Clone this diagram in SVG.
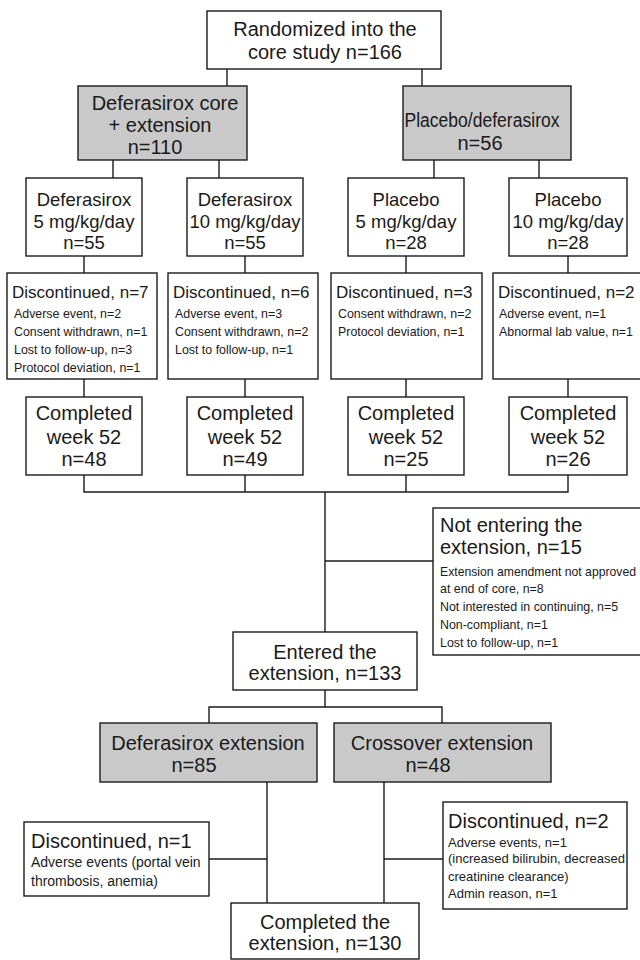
<svg xmlns="http://www.w3.org/2000/svg" width="640" height="960" viewBox="0 0 640 960">
<style>
text{font-family:"Liberation Sans",Arial,Helvetica,sans-serif;fill:#1a1a1a}
.b{fill:#fff;stroke:#1a1a1a;stroke-width:1.4}
.g{fill:#c9c9c9;stroke:#1a1a1a;stroke-width:1.4}
.c line,.c path{stroke:#1a1a1a;stroke-width:1.4;fill:none}
.t20{font-size:20px;text-anchor:middle}
.t18{font-size:18.5px;text-anchor:middle}
.h18{font-size:17px}
.h20{font-size:20px}
.s12{font-size:12.4px}
.s13{font-size:13px}
.s14{font-size:14px}
</style>
<rect width="640" height="960" fill="#fff"/>
<g class="c" id="connectors">
<line x1="227" y1="69" x2="227" y2="86"/>
<line x1="422" y1="69" x2="422" y2="86"/>
<line x1="113" y1="160" x2="113" y2="178"/>
<line x1="219" y1="160" x2="219" y2="178"/>
<line x1="434" y1="160" x2="434" y2="178"/>
<line x1="539" y1="160" x2="539" y2="178"/>
<line x1="84" y1="256" x2="84" y2="273"/>
<line x1="245" y1="256" x2="245" y2="273"/>
<line x1="406" y1="256" x2="406" y2="273"/>
<line x1="568" y1="256" x2="568" y2="273"/>
<line x1="84" y1="379" x2="84" y2="397"/>
<line x1="245" y1="379" x2="245" y2="397"/>
<line x1="406" y1="379" x2="406" y2="397"/>
<line x1="568" y1="379" x2="568" y2="397"/>
<path d="M84 475V492H568V475M245 475V492M406 475V492"/>
<line x1="325" y1="492" x2="325" y2="632"/>
<line x1="325" y1="561" x2="433" y2="561"/>
<line x1="325" y1="690" x2="325" y2="707"/>
<path d="M209 723V707H442V723"/>
<line x1="267" y1="782" x2="267" y2="903"/>
<line x1="384" y1="782" x2="384" y2="903"/>
<line x1="209" y1="859" x2="267" y2="859"/>
<line x1="384" y1="859" x2="443" y2="859"/>
</g>
<g id="randomized">
<rect class="b" x="207" y="11" width="234" height="58"/>
<text class="t20" x="325" y="36">Randomized into the</text>
<text class="t20" x="325" y="59">core study n=166</text>
</g>
<g id="def-core">
<rect class="g" x="78" y="86" width="169" height="74"/>
<text class="t20" x="165" y="110">Deferasirox core</text>
<text class="t20" x="160" y="132">+ extension</text>
<text class="t20" x="155" y="154">n=110</text>
</g>
<g id="placebo-def">
<rect class="g" x="403" y="86" width="168" height="74"/>
<text class="t20" x="482" y="127" textLength="155" lengthAdjust="spacingAndGlyphs">Placebo/deferasirox</text>
<text class="t20" x="480" y="150">n=56</text>
</g>
<g id="dose1">
<rect class="b" x="26" y="178" width="116" height="78"/>
<text class="t18" x="84" y="206">Deferasirox</text>
<text class="t18" x="84" y="228">5 mg/kg/day</text>
<text class="t18" x="84" y="249">n=55</text>
</g>
<g id="dose2">
<rect class="b" x="187" y="178" width="116" height="78"/>
<text class="t18" x="245" y="206">Deferasirox</text>
<text class="t18" x="245" y="228">10 mg/kg/day</text>
<text class="t18" x="245" y="249">n=55</text>
</g>
<g id="dose3">
<rect class="b" x="348" y="178" width="116" height="78"/>
<text class="t18" x="406" y="206">Placebo</text>
<text class="t18" x="406" y="228">5 mg/kg/day</text>
<text class="t18" x="406" y="249">n=28</text>
</g>
<g id="dose4">
<rect class="b" x="509" y="178" width="118" height="78"/>
<text class="t18" x="568" y="206">Placebo</text>
<text class="t18" x="568" y="228">10 mg/kg/day</text>
<text class="t18" x="568" y="249">n=28</text>
</g>
<g id="disc1">
<rect class="b" x="7" y="273" width="150" height="106"/>
<text class="h18" x="12" y="298">Discontinued, n=7</text>
<text class="s12" x="14" y="317.5">Adverse event, n=2</text>
<text class="s12" x="14" y="335.5">Consent withdrawn, n=1</text>
<text class="s12" x="14" y="353.5">Lost to follow-up, n=3</text>
<text class="s12" x="14" y="371.5">Protocol deviation, n=1</text>
</g>
<g id="disc2">
<rect class="b" x="168" y="273" width="150" height="106"/>
<text class="h18" x="173" y="298">Discontinued, n=6</text>
<text class="s12" x="175" y="317.5">Adverse event, n=3</text>
<text class="s12" x="175" y="335.5">Consent withdrawn, n=2</text>
<text class="s12" x="175" y="353.5">Lost to follow-up, n=1</text>
</g>
<g id="disc3">
<rect class="b" x="331" y="273" width="151" height="106"/>
<text class="h18" x="336" y="298">Discontinued, n=3</text>
<text class="s12" x="338" y="317.5">Consent withdrawn, n=2</text>
<text class="s12" x="338" y="335.5">Protocol deviation, n=1</text>
</g>
<g id="disc4">
<rect class="b" x="493" y="273" width="152" height="106"/>
<text class="h18" x="498" y="298">Discontinued, n=2</text>
<text class="s12" x="499" y="317.5">Adverse event, n=1</text>
<text class="s12" x="499" y="335.5">Abnormal lab value, n=1</text>
</g>
<g id="comp1">
<rect class="b" x="26" y="397" width="116" height="78"/>
<text class="t20" x="84" y="420">Completed</text>
<text class="t20" x="84" y="444">week 52</text>
<text class="t20" x="84" y="466">n=48</text>
</g>
<g id="comp2">
<rect class="b" x="187" y="397" width="116" height="78"/>
<text class="t20" x="245" y="420">Completed</text>
<text class="t20" x="245" y="444">week 52</text>
<text class="t20" x="245" y="466">n=49</text>
</g>
<g id="comp3">
<rect class="b" x="348" y="397" width="116" height="78"/>
<text class="t20" x="406" y="420">Completed</text>
<text class="t20" x="406" y="444">week 52</text>
<text class="t20" x="406" y="466">n=25</text>
</g>
<g id="comp4">
<rect class="b" x="509" y="397" width="118" height="78"/>
<text class="t20" x="568" y="420">Completed</text>
<text class="t20" x="568" y="444">week 52</text>
<text class="t20" x="568" y="466">n=26</text>
</g>
<g id="not-entering">
<rect class="b" x="433" y="508" width="212" height="147"/>
<text class="h20" x="440" y="532">Not entering the</text>
<text class="h20" x="440" y="554">extension, n=15</text>
<text class="s12" x="440" y="575.5" textLength="196" lengthAdjust="spacingAndGlyphs">Extension amendment not approved</text>
<text class="s12" x="440" y="593">at end of core, n=8</text>
<text class="s12" x="440" y="610.5">Not interested in continuing, n=5</text>
<text class="s12" x="440" y="628.5">Non-compliant, n=1</text>
<text class="s12" x="440" y="646.5">Lost to follow-up, n=1</text>
</g>
<g id="entered">
<rect class="b" x="233" y="632" width="184" height="58"/>
<text class="t20" x="325" y="659">Entered the</text>
<text class="t20" x="325" y="680">extension, n=133</text>
</g>
<g id="def-ext">
<rect class="g" x="100" y="723" width="217" height="59"/>
<text class="t20" x="208" y="750">Deferasirox extension</text>
<text class="t20" x="194" y="772">n=85</text>
</g>
<g id="crossover">
<rect class="g" x="334" y="723" width="217" height="59"/>
<text class="t20" x="442" y="750">Crossover extension</text>
<text class="t20" x="428" y="772">n=48</text>
</g>
<g id="disc-ext1">
<rect class="b" x="24" y="822" width="185" height="74"/>
<text class="h20" x="31" y="848">Discontinued, n=1</text>
<text class="s14" x="31" y="867">Adverse events (portal vein</text>
<text class="s14" x="31" y="886">thrombosis, anemia)</text>
</g>
<g id="disc-ext2">
<rect class="b" x="443" y="802" width="184" height="107"/>
<text class="h20" x="448" y="828">Discontinued, n=2</text>
<text class="s13" x="448" y="846.5">Adverse events, n=1</text>
<text class="s13" x="448" y="863">(increased bilirubin, decreased</text>
<text class="s13" x="448" y="880.5">creatinine clearance)</text>
<text class="s13" x="448" y="897.5">Admin reason, n=1</text>
</g>
<g id="completed-ext">
<rect class="b" x="231" y="903" width="188" height="56"/>
<text class="t20" x="325" y="929">Completed the</text>
<text class="t20" x="325" y="950">extension, n=130</text>
</g>
</svg>
